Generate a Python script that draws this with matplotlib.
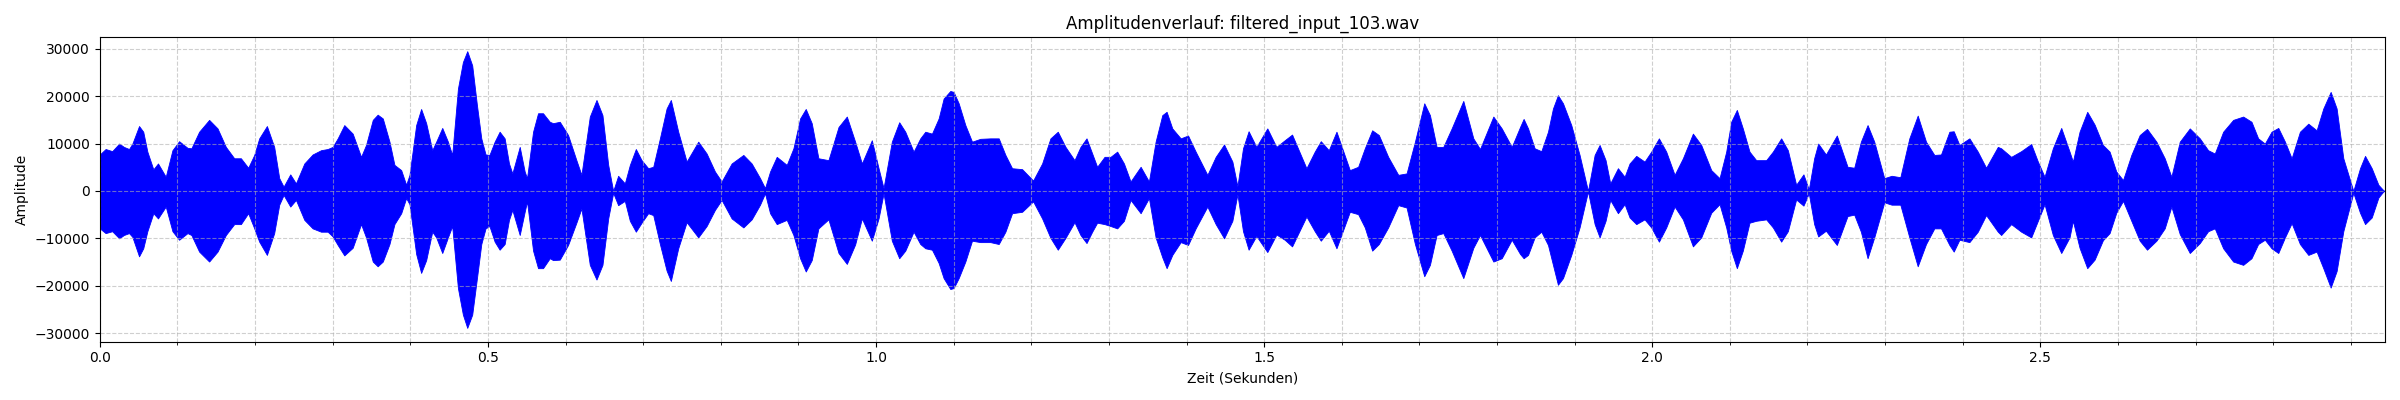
import matplotlib
matplotlib.use("Agg")
import matplotlib.pyplot as plt
from matplotlib.ticker import MultipleLocator
import numpy as np

# envelope of the waveform (seconds / amplitude)
times = [
    0.000, 0.0075, 0.016, 0.025, 0.031, 0.0377, 0.042, 0.0506, 0.056, 0.0613,
    0.069, 0.075, 0.085, 0.0936, 0.1022, 0.113, 0.118, 0.128, 0.1409, 0.1517,
    0.1624, 0.1732, 0.1818, 0.1912, 0.199, 0.2054, 0.2153, 0.2247, 0.2312, 0.2368,
    0.2454, 0.2527, 0.2635, 0.2742, 0.285, 0.2936, 0.300, 0.3065, 0.315, 0.3258,
    0.3366, 0.343, 0.3517, 0.358, 0.3646, 0.3732, 0.3796, 0.3883, 0.3947, 0.399,
    0.4076, 0.414, 0.4205, 0.4283, 0.4334, 0.4412, 0.4485, 0.454, 0.4614, 0.4678,
    0.4734, 0.4798, 0.4859, 0.4915, 0.497, 0.502, 0.5087, 0.5151, 0.5216, 0.5272,
    0.5315, 0.541, 0.5474, 0.5504, 0.5582, 0.5646, 0.571, 0.5797, 0.584, 0.5926,
    0.6033, 0.614, 0.6205, 0.6313, 0.6399, 0.6476, 0.655, 0.6614, 0.6678, 0.6764,
    0.6829, 0.6906, 0.698, 0.7065, 0.713, 0.7216, 0.7302, 0.7357, 0.7452, 0.756,
    0.771, 0.7818, 0.7925, 0.8011, 0.814, 0.8291, 0.8398, 0.8506, 0.857, 0.8635,
    0.8721, 0.885, 0.8936, 0.9022, 0.9095, 0.9172, 0.9258, 0.9387, 0.9517, 0.9624,
    0.9731, 0.9818, 0.9946, 1.0033, 1.0097, 1.0204, 1.0299, 1.0377, 1.0484, 1.057,
    1.0635, 1.0721, 1.0807, 1.0871, 1.0957, 1.100, 1.1065, 1.1151, 1.1237, 1.1344,
    1.1473, 1.1581, 1.1667, 1.1753, 1.1882, 1.2024, 1.214, 1.2247, 1.2342, 1.2441,
    1.2557, 1.2634, 1.2712, 1.2785, 1.2849, 1.2944, 1.3021, 1.3107, 1.3194, 1.3279,
    1.3409, 1.3516, 1.3602, 1.3688, 1.3744, 1.3817, 1.3925, 1.402, 1.4118, 1.4269,
    1.4376, 1.4484, 1.4591, 1.4656, 1.4728, 1.480, 1.490, 1.5041, 1.5158, 1.5265,
    1.536, 1.5545, 1.5652, 1.573, 1.5833, 1.5932, 1.6104, 1.6211, 1.6297, 1.6392,
    1.6478, 1.6598, 1.6728, 1.6835, 1.6943, 1.7063, 1.7136, 1.7222, 1.7308, 1.7416,
    1.7566, 1.7695, 1.7781, 1.7953, 1.8061, 1.819, 1.8297, 1.8343, 1.840, 1.8485,
    1.8571, 1.8657, 1.8721, 1.8785, 1.885, 1.8957, 1.9064, 1.9172, 1.9258, 1.9322,
    1.9399, 1.9459, 1.9558, 1.9644, 1.9708, 1.9794, 1.9901, 1.9987, 2.0086, 2.018,
    2.0288, 2.0395, 2.0524, 2.0631, 2.076, 2.0867, 2.0953, 2.1017, 2.109, 2.1167,
    2.1253, 2.1339, 2.1468, 2.1554, 2.1661, 2.1747, 2.1854, 2.1948, 2.2017, 2.2086,
    2.2138, 2.2237, 2.2378, 2.2516, 2.2602, 2.2688, 2.2774, 2.286, 2.2989, 2.3084,
    2.3196, 2.3312, 2.342, 2.3527, 2.3634, 2.372, 2.3828, 2.3884, 2.3957, 2.4086,
    2.4194, 2.4301, 2.4452, 2.4495, 2.4624, 2.4753, 2.4882, 2.4968, 2.5054, 2.5161,
    2.5269, 2.5376, 2.5419, 2.5505, 2.5604, 2.5699, 2.5806, 2.5892, 2.5978, 2.6065,
    2.6172, 2.628, 2.6374, 2.6495, 2.6602, 2.6688, 2.6796, 2.6925, 2.7054, 2.7161,
    2.7247, 2.7355, 2.7484, 2.7613, 2.772, 2.7806, 2.7892, 2.7978, 2.8065, 2.8151,
    2.8237, 2.8344, 2.8452, 2.8559, 2.8645, 2.874, 2.8817, 2.8903, 2.9032, 2.9118,
    2.9183, 2.9269, 2.9355, 2.9419, 2.944,
]

upper = [
    7700, 8850, 8400, 10000, 9300, 8850, 10000, 13700, 12500, 8300,
    4560, 5800, 3000, 8600, 10500, 9100, 9000, 12500, 15000, 13200,
    9300, 6900, 6900, 4900, 7600, 11100, 13700, 9300, 2700, 900,
    3500, 1600, 5800, 7700, 8600, 8850, 9300, 11100, 13900, 12100,
    7200, 9700, 15000, 16100, 15300, 10400, 5500, 4400, 1300, 3400,
    13900, 17300, 14300, 8600, 10400, 13300, 10400, 7600, 21600, 27200,
    29500, 26500, 18100, 11100, 7700, 7600, 10400, 12500, 11100, 5800,
    3700, 9300, 4100, 2700, 12500, 16400, 16400, 14600, 14300, 14600,
    11800, 6500, 3400, 15700, 19200, 16000, 5500, 0, 3200, 1600,
    5500, 8850, 6500, 4800, 5100, 11100, 17400, 19200, 12500, 6200,
    10400, 7900, 4100, 2000, 5800, 7600, 5800, 2700, 600, 4100,
    7200, 5500, 9000, 15300, 17300, 14300, 6900, 6500, 13500, 15700,
    10400, 5800, 10700, 4800, 600, 10400, 14500, 12500, 8300, 11100,
    12500, 12100, 15300, 19500, 21100, 20900, 18500, 13900, 10400, 11000,
    11100, 11100, 7600, 4800, 4600, 2200, 5800, 11100, 12500, 9300,
    6500, 9300, 11100, 7900, 5100, 7200, 7200, 8300, 5800, 2000,
    5100, 2000, 10400, 16000, 16700, 13200, 11100, 11700, 8300, 3400,
    7200, 9800, 6200, 1000, 9000, 12600, 9300, 13200, 9300, 10700,
    11900, 4800, 8300, 10500, 8600, 12500, 4400, 5100, 9000, 12800,
    11800, 7200, 3400, 3700, 10400, 18500, 16000, 9300, 9300, 13200,
    19000, 11100, 8850, 15700, 13200, 9300, 13500, 15200, 13200, 9000,
    8400, 12500, 17400, 20200, 18500, 13900, 7600, 0, 7600, 9700,
    6500, 1600, 4800, 3000, 5800, 7400, 6200, 8300, 11100, 8300,
    3400, 6900, 12100, 9700, 4400, 2700, 8300, 14600, 17100, 13200,
    8300, 6500, 6500, 8300, 11100, 8600, 1300, 3500, 300, 6900,
    10000, 7700, 11700, 5100, 4900, 10400, 13900, 10400, 2700, 3200,
    2900, 11100, 15900, 10400, 7600, 7700, 12500, 12600, 9700, 11100,
    8300, 4900, 9300, 9000, 7200, 8400, 9900, 6200, 3000, 9000,
    13300, 8300, 6200, 12500, 16700, 14000, 9700, 8300, 4100, 2300,
    7600, 11800, 13100, 10400, 6900, 3000, 10400, 13200, 11100, 8600,
    7900, 12500, 15000, 15700, 14600, 11100, 10000, 12500, 13300, 10400,
    6900, 12500, 14200, 12800, 17400, 20900, 17400, 6900, 0, 4800,
    7400, 4800, 1300, 150, 0,
]

lower = [
    -7900, -8900, -8500, -10000, -9300, -8900, -9700, -13800, -12100, -8500,
    -4700, -5800, -3300, -8500, -10300, -8900, -9300, -12800, -14900, -12800,
    -9300, -7000, -7000, -4700, -7900, -10700, -13500, -8900, -2900, -850,
    -3300, -1900, -6100, -7900, -8600, -8600, -9600, -11400, -13600, -12000,
    -7000, -9800, -14900, -15900, -14900, -11200, -7000, -4700, -1500, -2800,
    -13300, -17300, -14600, -8600, -9800, -13100, -9800, -7400, -20500, -26100,
    -28900, -26100, -18400, -11200, -7900, -7400, -10700, -12400, -11200, -6100,
    -4000, -9300, -4400, -2200, -12600, -16300, -16300, -14200, -14600, -14500,
    -11400, -6700, -3700, -15600, -18700, -15600, -5800, -400, -3000, -2100,
    -6300, -8600, -6700, -4700, -5100, -11200, -16800, -19000, -12100, -6600,
    -9800, -7400, -4000, -1900, -5800, -7700, -6000, -2900, -500, -4700,
    -7000, -6100, -9300, -14200, -17000, -14600, -7900, -6000, -13100, -15400,
    -11300, -5800, -10500, -5800, -500, -10500, -14200, -12600, -8600, -11200,
    -12100, -12400, -15200, -18400, -20700, -20500, -18400, -14900, -10500, -10800,
    -10800, -11200, -8600, -4700, -4400, -2200, -5800, -9900, -12400, -9900,
    -6600, -9300, -11000, -8600, -6700, -7000, -7400, -7900, -6300, -1900,
    -4700, -1500, -9800, -14000, -16300, -13500, -10800, -11400, -7900, -3300,
    -7000, -10000, -6300, -700, -8500, -12400, -9500, -12900, -9200, -10300,
    -11700, -5400, -8500, -10500, -8400, -12100, -4400, -4900, -7700, -12600,
    -11200, -7700, -3000, -3500, -11200, -18000, -15600, -9300, -8900, -12600,
    -18400, -12000, -9300, -14900, -14200, -10300, -13300, -14200, -13500, -9800,
    -8600, -11400, -15600, -19800, -18400, -13500, -7700, -100, -7000, -9800,
    -6300, -1900, -4700, -2800, -5600, -7000, -6000, -7700, -10700, -7700,
    -3300, -6000, -11700, -9800, -4600, -2800, -7700, -12600, -16300, -12600,
    -6700, -6300, -6000, -7700, -10700, -8500, -1800, -3100, -500, -7000,
    -9600, -8400, -11400, -5300, -5000, -8600, -14200, -9800, -2400, -2900,
    -2900, -9800, -15900, -11200, -7900, -7900, -11400, -12800, -10300, -10800,
    -8600, -5100, -8600, -9300, -7000, -8600, -9800, -6300, -2800, -9300,
    -13100, -9800, -6300, -12000, -16300, -14500, -10400, -8900, -4600, -2100,
    -6300, -10500, -12400, -10500, -7900, -3300, -9100, -13100, -11000, -8500,
    -7900, -12100, -14900, -15600, -14200, -11200, -10300, -12100, -13100, -9800,
    -6800, -11200, -13500, -12800, -16300, -20400, -16900, -8500, -400, -4600,
    -7000, -5600, -1400, -100, 0,
]

title = "Amplitudenverlauf: filtered_input_103.wav"

assert len(times) == len(upper) == len(lower)

fig, ax = plt.subplots(figsize=(24, 4), dpi=100)

ax.fill_between(np.array(times), np.array(lower), np.array(upper),
                color="blue", linewidth=0.6)

ax.set_xlim(0, times[-1])
ax.xaxis.set_major_locator(MultipleLocator(0.5))
ax.xaxis.set_minor_locator(MultipleLocator(0.1))
ax.grid(True, which="both", linestyle="--", alpha=0.6)

ax.set_title(title)
ax.set_xlabel("Zeit (Sekunden)")
ax.set_ylabel("Amplitude")

plt.tight_layout()
plt.savefig("out.png")
